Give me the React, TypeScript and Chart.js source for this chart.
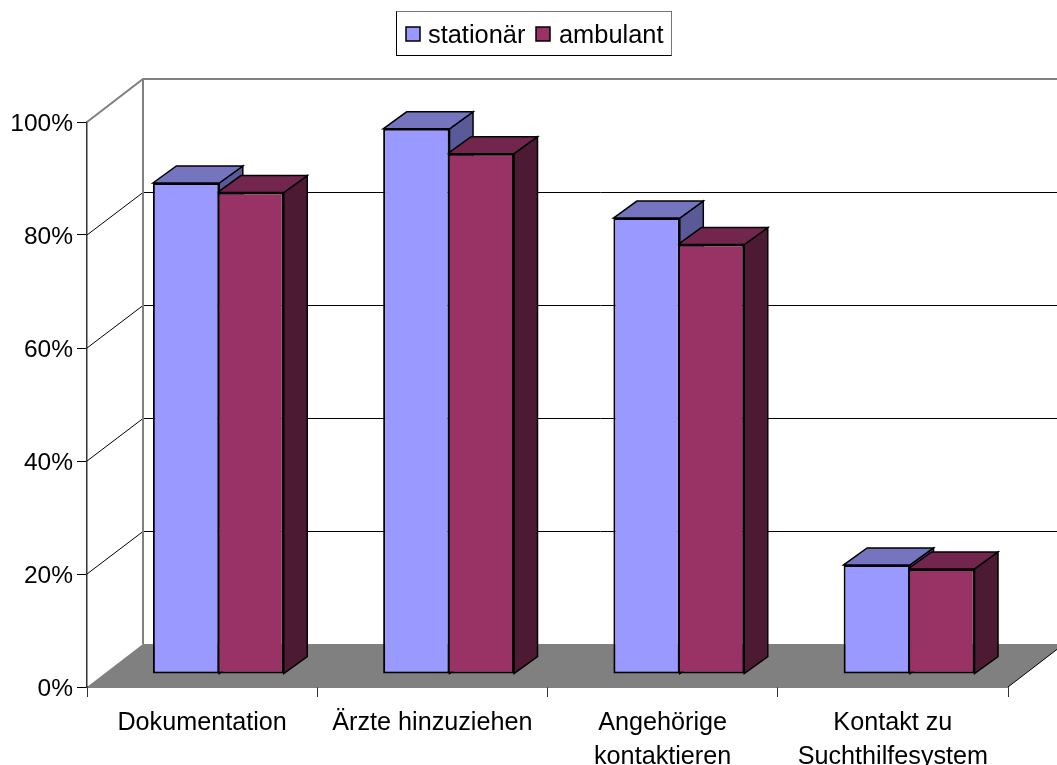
import React, { useEffect, useRef } from "react";
import { Chart, registerables } from "chart.js";

Chart.register(...registerables);

const categories = [
  "Dokumentation",
  "Ärzte hinzuziehen",
  ["Angehörige", "kontaktieren"],
  ["Kontakt zu", "Suchthilfesystem"],
];
const seriesNames = ["stationär", "ambulant"];
const stationaer = [86.9, 96.5, 80.7, 19.3];
const ambulant = [85.2, 92.1, 76.0, 18.6];
const yTicks = { min: 0, max: 100, step: 20 };

const FONT = '"Liberation Sans", Arial, sans-serif';
const FRONT_COLORS = ["#9999FF", "#993366"];
const TOP_COLORS = ["#7575BF", "#73264D"];
const SIDE_COLORS = ["#5A5A99", "#4D1A33"];
const WALL_GREY = "#808080";

// box depth of the pseudo-3D scene
const WALL_DX = 56;
const WALL_DY = -43;
const BAR_SHIFT_X = 16.2;
const BAR_SHIFT_Y = -13;
const BAR_DX = 23.5;
const BAR_DY = -17;

const wallsPlugin = {
  id: "walls",
  beforeDatasetsDraw(chart: any) {
    const { ctx, chartArea, scales } = chart;
    const y = scales.y;
    const { left, right } = chartArea;
    const bottom = y.getPixelForValue(0);
    ctx.save();
    // floor
    ctx.fillStyle = WALL_GREY;
    ctx.beginPath();
    ctx.moveTo(left, bottom);
    ctx.lineTo(left + WALL_DX, bottom + WALL_DY);
    ctx.lineTo(right + WALL_DX, bottom + WALL_DY);
    ctx.lineTo(right, bottom);
    ctx.closePath();
    ctx.fill();
    // gridlines
    for (const tick of y.ticks) {
      if (tick.value === yTicks.min) continue;
      const py = y.getPixelForValue(tick.value);
      const top = tick.value === yTicks.max;
      const backY = py + WALL_DY + (top ? 0 : 0.5);
      ctx.strokeStyle = top ? WALL_GREY : "#000000";
      ctx.lineWidth = top ? 2 : 1;
      ctx.beginPath();
      ctx.moveTo(left, py);
      ctx.lineTo(left + WALL_DX, backY);
      ctx.lineTo(right + WALL_DX, backY);
      ctx.stroke();
    }
    // back wall left edge
    ctx.strokeStyle = WALL_GREY;
    ctx.lineWidth = 2;
    ctx.beginPath();
    ctx.moveTo(left + WALL_DX, y.getPixelForValue(yTicks.max) + WALL_DY);
    ctx.lineTo(left + WALL_DX, bottom + WALL_DY);
    ctx.stroke();
    // floor right edge
    ctx.strokeStyle = "#000000";
    ctx.lineWidth = 1;
    ctx.beginPath();
    ctx.moveTo(right, bottom);
    ctx.lineTo(right + WALL_DX, bottom + WALL_DY);
    ctx.stroke();
    ctx.restore();
  },
};

const depthPlugin = {
  id: "depth",
  // side and top faces: first series first, so the second one overlaps it
  beforeDatasetsDraw(chart: any) {
    const { ctx } = chart;
    ctx.save();
    ctx.translate(BAR_SHIFT_X, BAR_SHIFT_Y);
    ctx.lineWidth = 1.5;
    ctx.strokeStyle = "#000000";
    ctx.lineJoin = "miter";
    chart.data.datasets.forEach((_: any, i: number) => {
      for (const bar of chart.getDatasetMeta(i).data) {
        const p = bar.getProps(["x", "y", "base", "width"], true);
        const l = p.x - p.width / 2;
        const r = p.x + p.width / 2;
        ctx.fillStyle = SIDE_COLORS[i];
        ctx.beginPath();
        ctx.moveTo(r, p.y);
        ctx.lineTo(r + BAR_DX, p.y + BAR_DY);
        ctx.lineTo(r + BAR_DX, p.base + BAR_DY);
        ctx.lineTo(r, p.base);
        ctx.closePath();
        ctx.fill();
        ctx.stroke();
        ctx.fillStyle = TOP_COLORS[i];
        ctx.beginPath();
        ctx.moveTo(l, p.y);
        ctx.lineTo(l + BAR_DX, p.y + BAR_DY);
        ctx.lineTo(r + BAR_DX, p.y + BAR_DY);
        ctx.lineTo(r, p.y);
        ctx.closePath();
        ctx.fill();
        ctx.stroke();
      }
    });
    ctx.restore();
  },
  beforeDatasetDraw(chart: any) {
    chart.ctx.save();
    chart.ctx.translate(BAR_SHIFT_X, BAR_SHIFT_Y);
  },
  afterDatasetDraw(chart: any) {
    chart.ctx.restore();
  },
};

const legendPlugin = {
  id: "boxLegend",
  afterDraw(chart: any) {
    const { ctx } = chart;
    ctx.save();
    ctx.fillStyle = "#FFFFFF";
    ctx.fillRect(396.5, 11.5, 275, 44);
    ctx.strokeStyle = "#000000";
    ctx.lineWidth = 1;
    ctx.strokeRect(396.5, 11.5, 275, 44);
    ctx.strokeStyle = "#777777";
    ctx.beginPath();
    ctx.moveTo(396.5, 11.5);
    ctx.lineTo(671.5, 11.5);
    ctx.lineTo(671.5, 55.5);
    ctx.stroke();
    const entries = [
      { box: 406, text: 428 },
      { box: 536, text: 559 },
    ];
    entries.forEach((e, i) => {
      ctx.fillStyle = FRONT_COLORS[i];
      ctx.strokeStyle = "#000000";
      ctx.lineWidth = 1.5;
      ctx.fillRect(e.box, 27, 14, 14);
      ctx.strokeRect(e.box, 27, 14, 14);
      ctx.fillStyle = "#000000";
      ctx.font = `25.4px ${FONT}`;
      ctx.textBaseline = "middle";
      ctx.textAlign = "left";
      ctx.fillText(chart.data.datasets[i].label, e.text, 36);
    });
    ctx.restore();
  },
};

export default function App() {
  const ref = useRef<HTMLCanvasElement>(null);
  useEffect(() => {
    const chart = new Chart(ref.current as HTMLCanvasElement, {
      type: "bar",
      data: {
        labels: categories as any,
        datasets: [
          {
            label: seriesNames[0],
            data: stationaer,
            backgroundColor: FRONT_COLORS[0],
            borderColor: "#000000",
            borderWidth: 2,
            borderSkipped: false,
            clip: false as any,
          },
          {
            label: seriesNames[1],
            data: ambulant,
            backgroundColor: FRONT_COLORS[1],
            borderColor: "#000000",
            borderWidth: 2,
            borderSkipped: false,
            clip: false as any,
          },
        ],
      },
      options: {
        responsive: false,
        animation: false,
        events: [],
        layout: { padding: { top: 122, right: 49, left: 0, bottom: 0 } },
        datasets: { bar: { categoryPercentage: 0.56, barPercentage: 1.03 } },
        plugins: { legend: { display: false }, tooltip: { enabled: false } },
        scales: {
          x: {
            afterFit: (s: any) => {
              s.height = 78;
            },
            border: { color: "#000000", width: 1.5 },
            grid: { offset: true, drawOnChartArea: false, drawTicks: true, tickLength: 10, color: "#333333" },
            ticks: {
              color: "#000000",
              font: { family: FONT, size: 25.2, lineHeight: 1.36 },
              maxRotation: 0,
              minRotation: 0,
              autoSkip: false,
              padding: 9,
            },
          },
          y: {
            min: yTicks.min,
            max: yTicks.max,
            afterFit: (s: any) => {
              s.width = 87;
            },
            border: { color: "#333333", width: 1.5 },
            grid: { drawOnChartArea: false, drawTicks: true, tickLength: 10, color: "#000000" },
            ticks: {
              stepSize: yTicks.step,
              color: "#000000",
              font: { family: FONT, size: 24.5 },
              padding: 4,
              labelOffset: 2,
              callback: (v: any) => `${v}%`,
            },
          },
        },
      },
      plugins: [wallsPlugin, depthPlugin, legendPlugin],
    } as any);
    return () => chart.destroy();
  }, []);
  return (
    <canvas
      ref={ref}
      width={1057}
      height={765}
      style={{ position: "absolute", left: 0, top: 0, width: 1057, height: 765, display: "block" }}
    />
  );
}
